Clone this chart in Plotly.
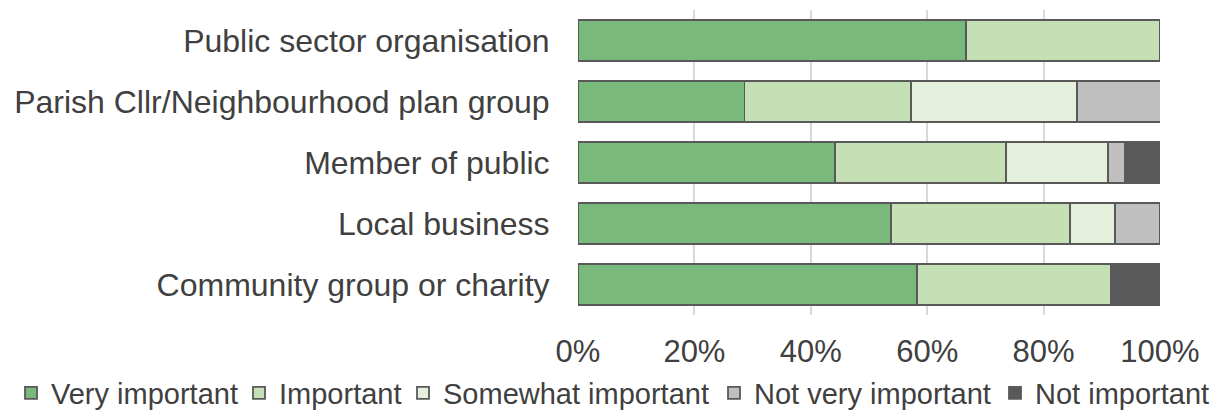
import plotly.graph_objects as go

# Respondent types, top to bottom
respondents = [
    "Public sector organisation",
    "Parish Cllr/Neighbourhood plan group",
    "Member of public",
    "Local business",
    "Community group or charity",
]

# Share of responses (%) per importance rating
very_important = [66.7, 28.6, 44.1, 53.8, 58.3]
important = [33.3, 28.6, 29.4, 30.8, 33.3]
somewhat_important = [0.0, 28.6, 17.6, 7.7, 0.0]
not_very_important = [0.0, 14.3, 2.9, 7.7, 0.0]
not_important = [0.0, 0.0, 5.9, 0.0, 8.3]

series = [
    ("Very important", very_important, "#79B97C"),
    ("Important", important, "#C5E0B4"),
    ("Somewhat important", somewhat_important, "#E4F0DB"),
    ("Not very important", not_very_important, "#BFBFBF"),
    ("Not important", not_important, "#595959"),
]

tick_vals = [0, 20, 40, 60, 80, 100]
tick_text = ["0%", "20%", "40%", "60%", "80%", "100%"]

FONT = "Liberation Sans, Arial, sans-serif"
TEXT = "#404040"
W, H = 1213, 416
M_L, M_R, M_T, M_B = 578, 53, 10, 101
PLOT_W = W - M_L - M_R
PLOT_H = H - M_T - M_B

# Left edge (px) of each legend entry along the bottom row
legend_left = [11, 239, 403, 714, 995]
LEGEND_MID_Y = 393

fig = go.Figure()
legend_layouts = {}
for i, (name, values, color) in enumerate(series):
    key = "legend" if i == 0 else f"legend{i + 1}"
    fig.add_trace(go.Bar(
        name=name,
        y=respondents,
        x=values,
        orientation="h",
        legend=key,
        marker=dict(color=color, line=dict(color="#595959", width=1.8)),
    ))
    # paper-referenced so the legends sit in the bottom margin without
    # reserving extra space
    legend_layouts[key] = dict(
        orientation="h",
        xref="paper",
        yref="paper",
        x=(legend_left[i] - M_L) / PLOT_W,
        xanchor="left",
        y=(H - M_B - LEGEND_MID_Y) / PLOT_H,
        yanchor="middle",
        font=dict(size=29, color=TEXT, family=FONT),
        itemwidth=30,
        bgcolor="rgba(0,0,0,0)",
        borderwidth=0,
    )

fig.update_layout(
    barmode="stack",
    bargap=0.33,
    width=W,
    height=H,
    margin=dict(l=M_L, r=M_R, t=M_T, b=M_B, autoexpand=False),
    paper_bgcolor="white",
    plot_bgcolor="white",
    font=dict(family=FONT, color=TEXT, size=31),
    showlegend=True,
    xaxis=dict(
        range=[0, 100],
        tickvals=tick_vals,
        ticktext=tick_text,
        showgrid=True,
        gridcolor="#D9D9D9",
        gridwidth=1.5,
        zeroline=False,
        showline=False,
        tickfont=dict(size=31, color=TEXT),
        ticks="outside",
        ticklen=9,
        tickcolor="rgba(0,0,0,0)",
        automargin=False,
        fixedrange=True,
    ),
    yaxis=dict(
        categoryorder="array",
        categoryarray=respondents,
        autorange="reversed",
        showgrid=False,
        showline=False,
        tickfont=dict(size=32, color=TEXT),
        ticks="outside",
        ticklen=21,
        tickcolor="rgba(0,0,0,0)",
        automargin=False,
        fixedrange=True,
    ),
    **legend_layouts,
)

fig.write_html("out.html")
